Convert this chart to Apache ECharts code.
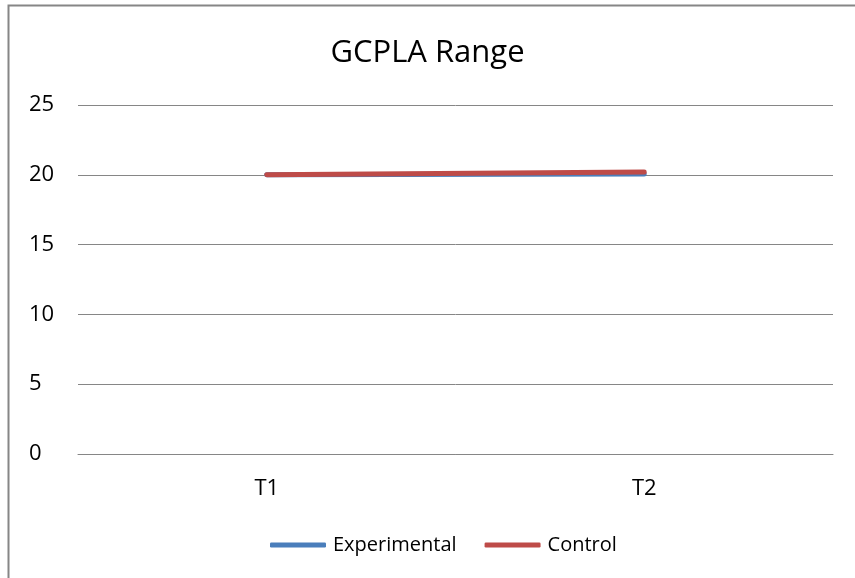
<!DOCTYPE html>
<html>
<head>
<meta charset="utf-8">
<script src="https://cdn.jsdelivr.net/npm/echarts@6/dist/echarts.min.js"></script>
<style>
  html, body { margin: 0; padding: 0; background: #fff; }
  #chart { width: 855px; height: 578px; }
</style>
</head>
<body>
<div id="chart"></div>
<script>
// data
const categories = ['T1', 'T2']
const experimental = [20.0, 20.05]
const control = [20.0, 20.2]
const yTicks = [0, 5, 10, 15, 20, 25]

const font = 'Open Sans, Noto Sans, sans-serif'

const myChart = echarts.init(document.getElementById('chart'))

myChart.setOption({
    animation: false,
    backgroundColor: '#fff',
    title: {
        text: 'GCPLA Range',
        left: 'center',
        top: 33,
        textStyle: { fontFamily: font, fontSize: 31, fontWeight: 'normal', color: '#000' }
    },
    legend: {
        top: 530,
        left: 265,
        itemWidth: 56,
        itemHeight: 5,
        itemGap: 28,
        icon: 'roundRect',
        textStyle: { fontFamily: font, fontSize: 20, color: '#000', padding: [0, 0, 0, 2] },
        data: ['Experimental', 'Control']
    },
    grid: { left: 78, right: 22, top: 105, bottom: 124 },
    xAxis: {
        type: 'category',
        data: categories,
        boundaryGap: true,
        axisLine: { lineStyle: { color: '#868686', width: 1 } },
        axisTick: { show: false },
        axisLabel: { fontFamily: font, fontSize: 22, color: '#000', margin: 24 }
    },
    yAxis: {
        type: 'value',
        min: yTicks[0],
        max: yTicks[yTicks.length - 1],
        interval: 5,
        axisLine: { show: false },
        axisTick: { show: false },
        axisLabel: { fontFamily: font, fontSize: 22, color: '#000', margin: 49, align: 'left' },
        splitLine: { lineStyle: { color: '#868686', width: 1 } }
    },
    series: [
        {
            name: 'Experimental',
            type: 'line',
            data: experimental,
            symbol: 'none',
            lineStyle: { color: '#4a7ebb', width: 5, cap: 'round' },
            itemStyle: { color: '#4a7ebb' }
        },
        {
            name: 'Control',
            type: 'line',
            data: control,
            symbol: 'none',
            lineStyle: { color: '#be4b48', width: 5, cap: 'round' },
            itemStyle: { color: '#be4b48' }
        }
    ],
    graphic: [
        {
            type: 'rect',
            shape: { x: 8.5, y: 5.5, width: 900, height: 600 },
            style: { fill: 'none', stroke: '#868686', lineWidth: 2 },
            silent: true
        }
    ]
})
</script>
</body>
</html>
